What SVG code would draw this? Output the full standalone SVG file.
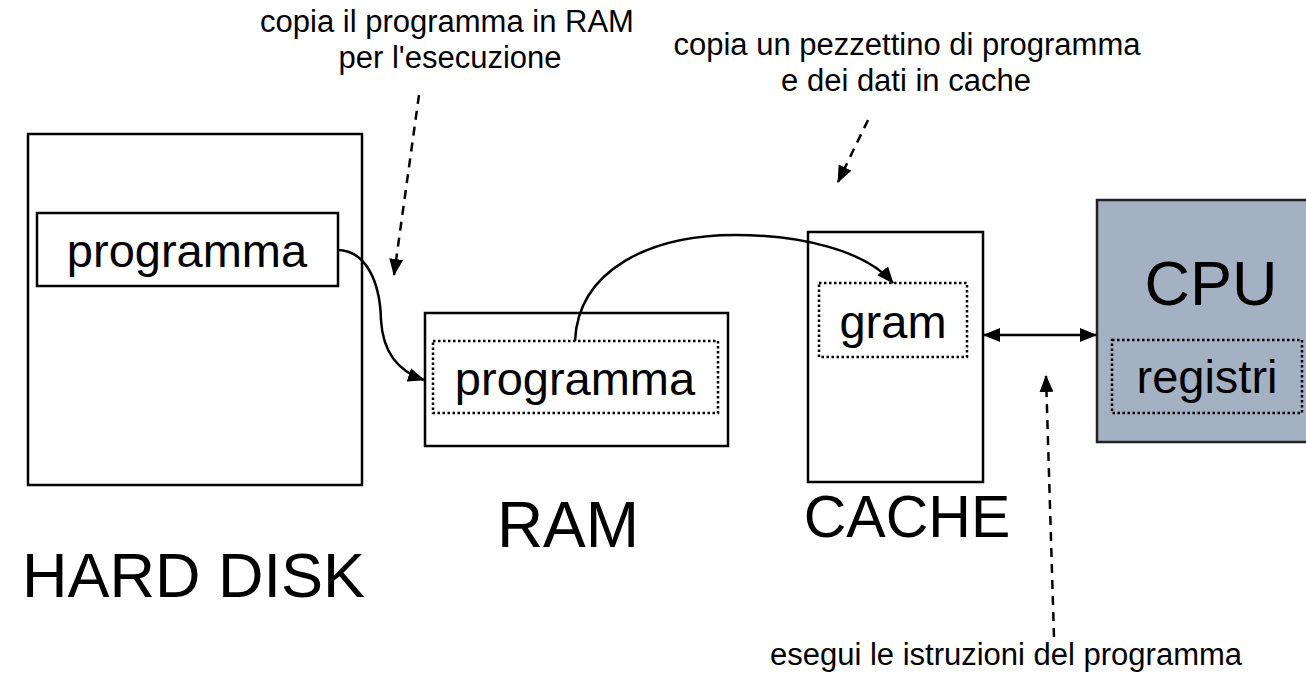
<svg xmlns="http://www.w3.org/2000/svg" width="1306" height="681" viewBox="0 0 1306 681">
<style>
text{font-family:"Liberation Sans",Arial,sans-serif;fill:#000}
.box{fill:#fff;stroke:#000;stroke-width:2.5}
.dot{fill:none;stroke:#000;stroke-width:2.5;stroke-dasharray:2.5 2.5}
.big{font-size:62px}
.mid{font-size:47px}
.cap{font-size:31px}
.c{text-anchor:middle}
.con{fill:none;stroke:#000;stroke-width:2.5}
.dash{fill:none;stroke:#000;stroke-width:2.5;stroke-dasharray:9 7}
</style>
<defs>
<marker id="ah" markerUnits="userSpaceOnUse" markerWidth="18" markerHeight="14" refX="16" refY="7" orient="auto-start-reverse">
<path d="M0,0 L17,7 L0,14 Z" fill="#000"/>
</marker>
</defs>
<rect width="1306" height="681" fill="#fff"/>
<g id="harddisk">
<rect class="box" x="28" y="134" width="334" height="351"/>
<rect class="box" x="37" y="213" width="301" height="73"/>
<text class="mid c" x="187" y="267">programma</text>
<text class="big" x="22" y="597" style="font-size:63px">HARD DISK</text>
</g>
<g id="ram">
<rect class="box" x="425" y="313" width="303" height="133"/>
<rect class="dot" x="433" y="341" width="285" height="72"/>
<text class="mid c" x="575" y="395">programma</text>
<text class="big c" x="568" y="547" style="font-size:64px">RAM</text>
</g>
<g id="cache">
<rect class="box" x="808" y="232" width="175" height="250"/>
<rect class="dot" x="819" y="283" width="148" height="74"/>
<text class="mid c" x="893" y="338">gram</text>
<text class="big c" x="907" y="537" style="font-size:59px">CACHE</text>
</g>
<g id="cpu">
<rect x="1097" y="200" width="215" height="242" fill="#a3b1c2" stroke="#222" stroke-width="2.5"/>
<rect class="dot" x="1112" y="340" width="190" height="73"/>
<text class="big c" x="1211" y="305" style="font-size:63px">CPU</text>
<text class="mid c" x="1207" y="393">registri</text>
</g>
<g id="labels">
<text class="cap c" x="447" y="32">copia il programma in RAM</text>
<text class="cap c" x="450" y="68">per l'esecuzione</text>
<text class="cap c" x="907" y="55">copia un pezzettino di programma</text>
<text class="cap c" x="906" y="91">e dei dati in cache</text>
<text class="cap c" x="1006" y="665">esegui le istruzioni del programma</text>
</g>
<g id="connectors">
<path class="con" d="M337,250 C365,250 380,280 381,320 C383,355 400,372 424,380" marker-end="url(#ah)"/>
<path class="con" d="M575,341 C578,270 650,235 735,235 C800,235 865,250 893,283" marker-end="url(#ah)"/>
<path class="con" d="M984,335 L1096,335" marker-start="url(#ah)" marker-end="url(#ah)"/>
<path class="dash" d="M419,95 L394,275" marker-end="url(#ah)"/>
<path class="dash" d="M868,120 L838,182" marker-end="url(#ah)"/>
<path class="dash" d="M1054,637 L1046,376" marker-end="url(#ah)"/>
</g>
</svg>
